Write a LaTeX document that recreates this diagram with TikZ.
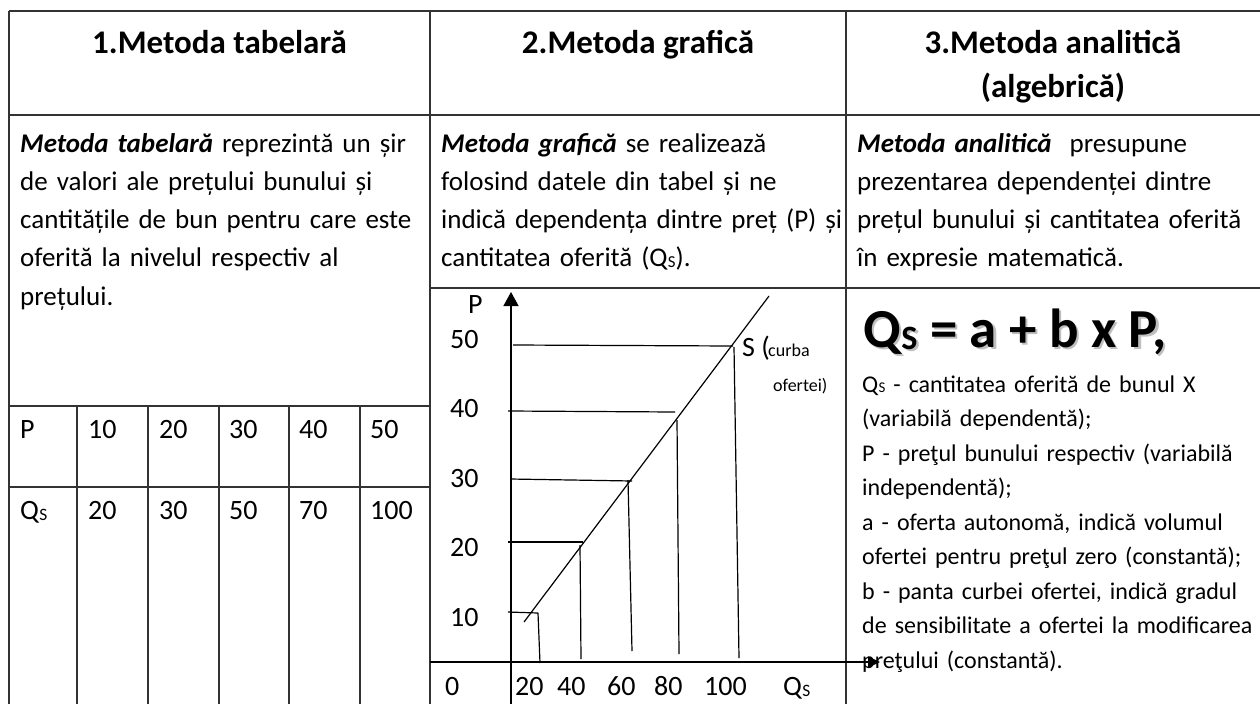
\documentclass[tikz,border=0pt]{standalone}
\usepackage{fontspec}
\setmainfont{Carlito}
\usetikzlibrary{arrows.meta}
\newcommand\QS{Q\kern0.01em\raisebox{-0.04em}{\scalebox{0.62}{S}}}
\begin{document}
\begin{tikzpicture}[x=1pt,y=-1pt,
  grid/.style={line width=1.8pt, draw=black!80},
  gline/.style={line width=1.2pt, draw=black},
  head/.style={font=\fontsize{33}{44}\selectfont\bfseries, anchor=base, inner sep=0},
  body/.style={font=\fontsize{27}{38.3}\selectfont, anchor=base west, inner sep=0, align=left, text width=425pt},
  small/.style={font=\fontsize{24}{34.5}\selectfont, anchor=base west, inner sep=0, align=left, text width=425pt},
  num/.style={font=\fontsize{28}{34}\selectfont, anchor=base west, inner sep=0},
  tiny/.style={font=\fontsize{18}{22}\selectfont, anchor=base west, inner sep=0}]
\useasboundingbox (0,0) rectangle (1260,704);
% table grid
\draw[grid] (9,11) -- (1260,11);
\draw[grid] (9,115) -- (1260,115);
\draw[grid] (430,288) -- (1260,288);
\draw[grid] (9,406) -- (430,406);
\draw[grid] (9,487) -- (430,487);
\draw[grid] (9,11) -- (9,704);
\draw[grid] (430,11) -- (430,704);
\draw[grid] (846,11) -- (846,704);
\foreach \x in {77,148,219,289,360} \draw[grid] (\x,406) -- (\x,704);
% headers
\node[head] (h1) at (219.5,53) {1.Metoda tabelară};
\node[head] (h2) at (638,53) {2.Metoda grafică};
\node[head] (h3) at (1053,53) {3.Metoda analitică};
\node[head] (h3b) at (1053,97) {(algebrică)};
% bodies
\node[body] (b1) at (20,152) {\textbf{\textit{Metoda tabelară}} reprezintă un șir\\de valori ale prețului bunului și\\cantitățile de bun pentru care este\\oferită la nivelul respectiv al\\prețului.};
\node[body] (b2) at (441,152) {\textbf{\textit{Metoda grafică}} se realizează\\folosind datele din tabel și ne\\indică dependența dintre preț (P) și\\cantitatea oferită (\QS).};
\node[body] (b3) at (857,152) {\textbf{\textit{Metoda analitică}}\ \ presupune\\prezentarea dependenței dintre\\prețul bunului și cantitatea oferită\\în expresie matematică.};
% table values
\node[num] (tp) at (20,438) {P};
\node[num] (tq) at (20,519) {\QS};
\foreach \x/\p/\q [count=\i] in {88/10/20,159/20/30,229/30/50,299/40/70,370/50/100}{
  \node[num] (tp\i) at (\x,438) {\p};
  \node[num] (tq\i) at (\x,519) {\q};
}
% graph
\coordinate (yb) at (511,704);
\coordinate (yt) at (511,292);
\coordinate (xl) at (430,662);
\coordinate (xr) at (880,662);
\draw[line width=1.4pt, -{Triangle[width=15pt,length=14pt]}] (yb) -- (yt);
\draw[line width=1.6pt, -{Triangle[width=11pt,length=12pt]}] (xl) -- (xr);
\coordinate (s0) at (524,622);
\coordinate (s1) at (769,296);
\draw[gline] (s0) -- (s1);
\foreach \a/\b/\c/\d/\e/\f/\g/\h [count=\i] in {
  513/345/733/346/734/347/739/658,
  508/411/675/412/677/420/679/654,
  510/479/632/481/628/480/632/651,
  508/542/583/542/580/545/581/659,
  508/612/538/613/538/613/540/663}{
  \coordinate (ha\i) at (\a,\b); \coordinate (hb\i) at (\c,\d);
  \coordinate (va\i) at (\e,\f); \coordinate (vb\i) at (\g,\h);
  \draw[gline] (ha\i) -- (hb\i);
  \draw[gline] (va\i) -- (vb\i);
}
\node[num] (lP) at (468,313) {P};
\foreach \v/\y [count=\i] in {50/348,40/417,30/487,20/556,10/626}
  \node[num] (ly\i) at (450,\y) {\v};
\foreach \v/\x [count=\i] in {0/445,20/515,40/557,60/607,80/654,100/704}
  \node[num] (lx\i) at (\x,695) {\v};
\node[num] (lQ) at (783,695) {\QS};
\node[num] (lS) at (742,356) {S (};
\node[tiny] (lc) at (768,356) {curba};
\node[tiny] (lo) at (773,391) {ofertei)};
% formula with soft shadow
\node[font=\fontsize{55}{60}\selectfont\bfseries, text=black!25, anchor=base west, inner sep=0] (fsh) at (865.5,349.5) {\QS{} = a + b x P,};
\node[font=\fontsize{55}{60}\selectfont\bfseries, anchor=base west, inner sep=0] (f) at (863,347) {\QS{} = a + b x P,};
\node[small] (d) at (862,392) {\QS{} - cantitatea oferită de bunul X\\(variabilă dependentă);\\P - preţul bunului respectiv (variabilă\\independentă);\\a - oferta autonomă, indică volumul\\ofertei pentru preţul zero (constantă);\\b - panta curbei ofertei, indică gradul\\de sensibilitate a ofertei la modificarea\\preţului (constantă).};
\end{tikzpicture}
\end{document}
